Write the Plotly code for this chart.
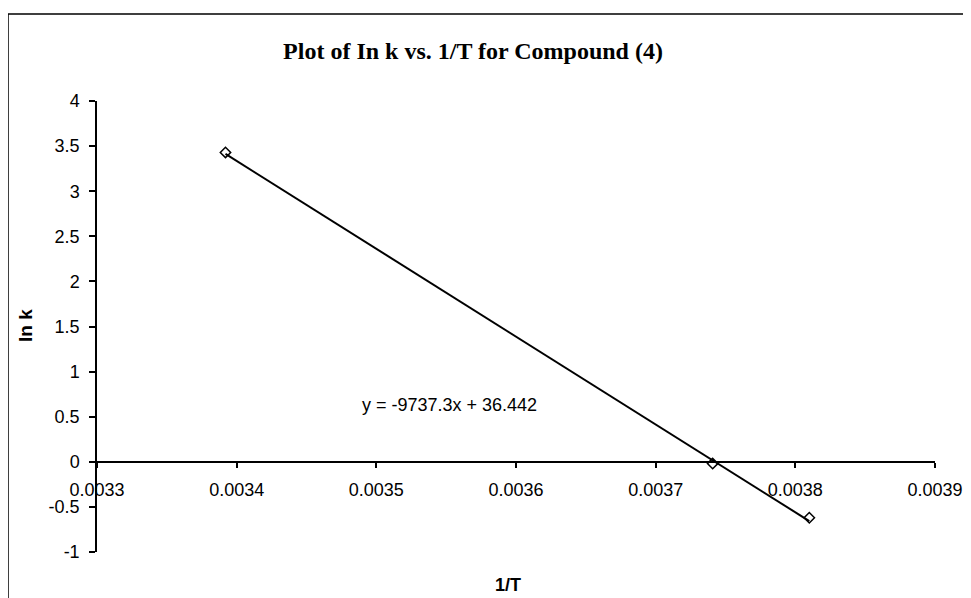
import plotly.graph_objects as go

# data
inv_T = [0.003392, 0.0037408, 0.00381]
ln_k = [3.43, -0.02, -0.62]

# trendline printed on the chart
slope = -9737.3
intercept = 36.442
fit_x = [min(inv_T), max(inv_T)]
fit_y = [slope * x + intercept for x in fit_x]

y_ticks = [-1, -0.5, 0, 0.5, 1, 1.5, 2, 2.5, 3, 3.5, 4]
y_ticktext = ['-1', '-0.5', '0', '0.5', '1', '1.5', '2', '2.5', '3', '3.5', '4']
x_ticks = [0.0033, 0.0034, 0.0035, 0.0036, 0.0037, 0.0038, 0.0039]
x_ticktext = ['0.0033', '0.0034', '0.0035', '0.0036', '0.0037', '0.0038', '0.0039']

W, H = 971, 598
OFF = 8  # page body margin
L, R, T, B = 97 - OFF, W - (935 - OFF), 101 - OFF, H - (552 - OFF)
pw = W - L - R
ph = H - T - B


def px_x(px):
    return (px - OFF - L) / pw


def px_y(py):
    return (H - B - (py - OFF)) / ph


fig = go.Figure()
fig.add_trace(go.Scatter(x=fit_x, y=fit_y, mode='lines',
                         line=dict(color='black', width=2), showlegend=False))
fig.add_trace(go.Scatter(x=inv_T, y=ln_k, mode='markers',
                         marker=dict(symbol='diamond-open', size=8, color='black',
                                     line=dict(color='black', width=1.5)),
                         showlegend=False))

fig.update_layout(
    width=W, height=H,
    margin=dict(l=L, r=R, t=T, b=B),
    paper_bgcolor='white', plot_bgcolor='white',
    font=dict(family='Liberation Sans, Arial', size=18, color='black'),
    title=dict(text='<b>Plot of In k vs. 1/T for Compound (4)</b>',
               x=(473 - OFF) / W, xref='container', xanchor='center',
               y=1 - (51 - OFF) / H, yref='container', yanchor='middle',
               font=dict(family='Liberation Serif, Times New Roman', size=24, color='black')),
    xaxis=dict(range=[0.0033, 0.0039], tickvals=x_ticks, ticktext=x_ticktext,
               showgrid=False, zeroline=False, showline=True, linecolor='black', linewidth=1.5,
               ticks='outside', ticklen=5, tickcolor='black', tickwidth=1.5,
               anchor='free', position=0.2, ticklabelstandoff=7,
               tickfont=dict(size=18)),
    yaxis=dict(range=[-1, 4], tickvals=y_ticks, ticktext=y_ticktext,
               showgrid=False, zeroline=False, showline=True, linecolor='black', linewidth=1.5,
               ticks='outside', ticklen=6, tickcolor='black', tickwidth=1.5,
               ticklabelstandoff=6, tickfont=dict(size=18)),
    annotations=[
        dict(text='y = -9737.3x + 36.442', x=px_x(449), y=px_y(405), xref='paper', yref='paper',
             xanchor='center', yanchor='middle', showarrow=False, font=dict(size=18)),
        dict(text='<b>1/T</b>', x=px_x(508), y=px_y(585), xref='paper', yref='paper',
             xanchor='center', yanchor='middle', showarrow=False, font=dict(size=18)),
        dict(text='<b>ln k</b>', textangle=-90, x=px_x(25), y=px_y(326), xref='paper', yref='paper',
             xanchor='center', yanchor='middle', showarrow=False, font=dict(size=19)),
    ],
    shapes=[
        dict(type='rect', xref='paper', yref='paper',
             x0=px_x(8), x1=px_x(1010), y0=px_y(650), y1=px_y(14),
             line=dict(color='black', width=1.5)),
    ],
)

fig.write_html("out.html")
